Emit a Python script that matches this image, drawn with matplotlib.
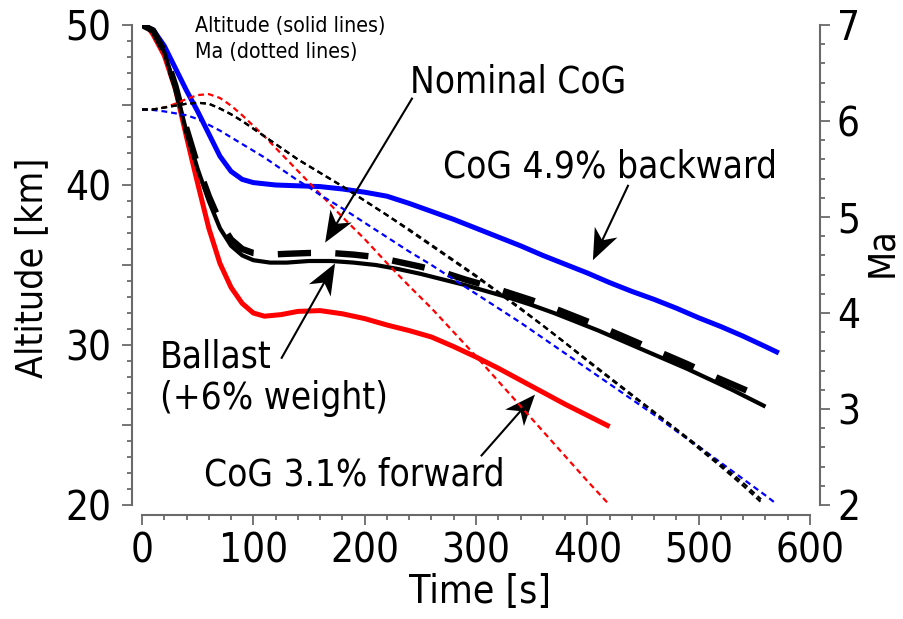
import numpy as np
import matplotlib
matplotlib.use("Agg")
import matplotlib.pyplot as plt
from matplotlib.ticker import MultipleLocator, FuncFormatter
from matplotlib.patches import Polygon

plt.rcParams['font.family'] = ['DejaVu Sans']
plt.rcParams['font.stretch'] = 'condensed'

# altitude [km] vs time [s]
t_red = [0, 5, 10, 20, 30, 40, 50, 60, 70, 80, 90, 100, 110, 125, 140, 160, 180, 200,
         220, 240, 260, 280, 300, 320, 340, 360, 380, 400, 420]
alt_red = [50, 49.9, 49.4, 48.1, 46.0, 43.0, 40.1, 37.3, 35.1, 33.6, 32.6, 32.0, 31.8, 31.9,
           32.1, 32.15, 31.95, 31.65, 31.25, 30.9, 30.5, 29.9, 29.25, 28.55, 27.8, 27.05,
           26.3, 25.6, 24.9]

t_blue = [0, 10, 20, 30, 40, 50, 60, 70, 80, 90, 100, 120, 140, 160, 180, 200, 220, 240,
          260, 280, 300, 320, 340, 360, 380, 400, 420, 440, 460, 480, 500, 520, 540, 560, 572]
alt_blue = [50, 49.7, 48.7, 47.3, 45.9, 44.6, 43.2, 41.8, 40.85, 40.35, 40.15, 40.0, 39.95,
            39.9, 39.75, 39.55, 39.3, 38.85, 38.35, 37.85, 37.3, 36.75, 36.2, 35.6, 35.05,
            34.5, 33.9, 33.35, 32.85, 32.3, 31.7, 31.15, 30.55, 29.9, 29.5]

t_ballast = [0, 10, 20, 30, 40, 50, 60, 70, 80, 90, 100, 115, 130, 150, 170, 190, 210, 230,
             250, 270, 290, 310, 330, 350, 370, 390, 410, 430, 450, 470, 490, 510, 530, 550, 560]
alt_ballast = [50, 49.6, 48.3, 46.1, 43.3, 41.0, 39.0, 37.3, 36.2, 35.6, 35.3, 35.15, 35.15,
               35.25, 35.25, 35.15, 35.0, 34.75, 34.45, 34.1, 33.75, 33.35, 32.95, 32.5, 32.0,
               31.45, 30.9, 30.3, 29.7, 29.1, 28.5, 27.85, 27.2, 26.5, 26.15]

t_nominal = [0, 10, 20, 30, 40, 50, 60, 70, 80, 90, 100, 115, 130, 150, 170, 190, 210, 230,
             250, 270, 290, 310, 330, 350, 370, 390, 410, 430, 450, 470, 490, 510, 530, 545]
alt_nominal = [50, 49.65, 48.35, 46.2, 43.5, 41.2, 39.3, 37.7, 36.6, 36.0, 35.75, 35.65, 35.7,
               35.75, 35.75, 35.65, 35.5, 35.2, 34.9, 34.55, 34.1, 33.7, 33.25, 32.8, 32.3,
               31.75, 31.2, 30.6, 30.0, 29.4, 28.8, 28.15, 27.55, 27.1]

# Mach number vs time [s]
tm_red = [0, 10, 20, 30, 40, 50, 60, 70, 80, 90, 100, 110, 120, 130, 140, 150, 160, 170, 180,
          200, 220, 240, 260, 280, 300, 320, 340, 360, 380, 400, 420]
ma_red = [6.12, 6.12, 6.14, 6.18, 6.23, 6.27, 6.28, 6.24, 6.16, 6.06, 5.95, 5.84, 5.72, 5.6,
          5.48, 5.36, 5.24, 5.12, 5.0, 4.77, 4.52, 4.28, 4.05, 3.8, 3.55, 3.29, 3.03, 2.77,
          2.51, 2.25, 2.0]

tm_black = [0, 10, 20, 30, 40, 50, 60, 70, 80, 90, 100, 110, 120, 130, 140, 150, 160, 170,
            180, 200, 220, 240, 260, 280, 300, 320, 340, 360, 380, 400, 420, 440, 460, 480,
            500, 520, 540, 556]
ma_nominal = [6.12, 6.12, 6.14, 6.16, 6.18, 6.19, 6.18, 6.13, 6.07, 6.0, 5.92, 5.84, 5.76,
              5.68, 5.6, 5.53, 5.46, 5.39, 5.32, 5.17, 5.02, 4.87, 4.71, 4.55, 4.39, 4.22,
              4.05, 3.87, 3.69, 3.5, 3.32, 3.14, 2.96, 2.78, 2.59, 2.4, 2.2, 2.03]
ma_ballast = [6.12, 6.12, 6.14, 6.16, 6.18, 6.19, 6.18, 6.13, 6.07, 6.0, 5.92, 5.84, 5.76,
              5.68, 5.6, 5.53, 5.46, 5.39, 5.32, 5.17, 5.02, 4.86, 4.70, 4.54, 4.38, 4.21,
              4.04, 3.87, 3.69, 3.51, 3.33, 3.15, 2.97, 2.79, 2.61, 2.42, 2.23, 2.06]

tm_blue = [0, 10, 20, 30, 40, 50, 60, 70, 80, 90, 100, 110, 120, 130, 140, 150, 160, 170,
           180, 200, 220, 240, 260, 280, 300, 320, 340, 360, 380, 400, 420, 440, 460, 480,
           500, 520, 540, 560, 570]
ma_blue = [6.12, 6.115, 6.1, 6.08, 6.06, 6.02, 5.96, 5.9, 5.83, 5.76, 5.69, 5.62, 5.54, 5.46,
           5.38, 5.31, 5.23, 5.16, 5.09, 4.94, 4.79, 4.64, 4.5, 4.35, 4.2, 4.05, 3.9, 3.74,
           3.58, 3.42, 3.26, 3.1, 2.94, 2.77, 2.61, 2.44, 2.27, 2.1, 2.01]

GRAY = '#6a6a6a'

fig = plt.figure(figsize=(9.04, 6.19), dpi=100)
ax = fig.add_axes([142 / 904, 1 - 505 / 619, 668 / 904, 480 / 619])
ax2 = ax.twinx()
ax.patch.set_visible(False)

ax.set_xlim(0, 600)
ax.set_ylim(20, 50)
ax2.set_ylim(2, 7)

# altitude curves
solid = dict(solid_capstyle='butt', solid_joinstyle='round')
ax.plot(t_red, alt_red, color='#ff0000', lw=3.6, **solid)
ax.plot(t_blue, alt_blue, color='#0000ff', lw=3.6, **solid)
ax.plot(t_ballast, alt_ballast, color='black', lw=3.0, **solid)
ax.plot(t_nominal, alt_nominal, color='black', lw=4.6, linestyle=(0, (5.2, 3.8)),
        dash_joinstyle='round')

# Mach curves
dots = (0, (2.6, 1.8))
ax2.plot(tm_red, ma_red, color='#ff0000', lw=1.6, linestyle=dots)
ax2.plot(tm_blue, ma_blue, color='#0000ff', lw=1.6, linestyle=dots)
ax2.plot(tm_black, ma_nominal, color='black', lw=1.6, linestyle=dots)
ax2.plot(tm_black, ma_ballast, color='black', lw=1.6, linestyle=dots)

# spines and ticks
for s in ['top', 'right']:
    ax.spines[s].set_visible(False)
for s in ['top', 'left', 'bottom']:
    ax2.spines[s].set_visible(False)
ax.spines['left'].set_position(('outward', 7.2))
ax.spines['bottom'].set_position(('outward', 7.2))
ax2.spines['right'].set_position(('outward', 7.2))
for sp in [ax.spines['left'], ax.spines['bottom'], ax2.spines['right']]:
    sp.set_color(GRAY)
    sp.set_linewidth(1.5)

ax.xaxis.set_major_locator(MultipleLocator(100))
ax.xaxis.set_minor_locator(MultipleLocator(20))
ax.yaxis.set_major_locator(MultipleLocator(5))
ax.yaxis.set_minor_locator(MultipleLocator(1))
ax.yaxis.set_major_formatter(FuncFormatter(lambda v, p: f"{v:.0f}" if v % 10 == 0 else ""))
ax2.yaxis.set_major_locator(MultipleLocator(1))
ax2.yaxis.set_minor_locator(MultipleLocator(0.2))

for a in (ax, ax2):
    a.tick_params(which='major', length=7.2, width=1.3, color=GRAY, labelsize=29)
    a.tick_params(which='minor', length=3.6, width=1.3, color=GRAY)
ax.tick_params(axis='y', which='major', pad=8)
ax.tick_params(axis='x', which='major', pad=5)
ax2.tick_params(axis='y', which='major', pad=5)

# axis labels
fig.text(32 / 904, 1 - 268 / 619, 'Altitude [km]', rotation=90, ha='center', va='center', fontsize=27)
fig.text(882 / 904, 1 - 252 / 619, 'Ma', rotation=90, ha='center', va='center', fontsize=27)
fig.text(480 / 904, 1 - 592 / 619, 'Time [s]', ha='center', va='center', fontsize=28)

# legend notes
ax.text(47.5, 49.55, 'Altitude (solid lines)', fontsize=15.3, va='baseline')
ax.text(47.5, 47.95, 'Ma (dotted lines)', fontsize=15.3, va='baseline')


def stealth_arrow(tail, tip, length=31, width=25, notch=9):
    p0 = ax.transData.transform(tail)
    p1 = ax.transData.transform(tip)
    d = (p1 - p0) / np.hypot(*(p1 - p0))
    n = np.array([-d[1], d[0]])
    base = p1 - d * length
    pts = np.array([p1, base + n * width / 2, p1 - d * (length - notch), base - n * width / 2])
    inv = ax.transData.inverted()
    neck = inv.transform(p1 - d * (length - notch))
    ax.plot([tail[0], neck[0]], [tail[1], neck[1]], color='black', lw=1.5)
    ax.add_patch(Polygon(inv.transform(pts), closed=True, color='black', lw=0))


ann = 26.5
ax.text(240.5, 45.8, 'Nominal CoG', fontsize=ann, va='baseline', ha='left')
stealth_arrow((242.5, 45.4), (164.5, 36.4))

ax.text(270.5, 40.45, 'CoG 4.9% backward', fontsize=ann, va='baseline', ha='left')
stealth_arrow((436.5, 39.95), (405, 35.3))

ax.text(16, 28.6, 'Ballast', fontsize=ann, va='baseline', ha='left')
ax.text(16, 26.0, '(+6% weight)', fontsize=ann, va='baseline', ha='left')
stealth_arrow((125.5, 29.2), (173.4, 35.1))

ax.text(56, 21.25, 'CoG 3.1% forward', fontsize=ann, va='baseline', ha='left')
stealth_arrow((305, 23.1), (353, 26.9))

fig.savefig('out.png', dpi=100)
